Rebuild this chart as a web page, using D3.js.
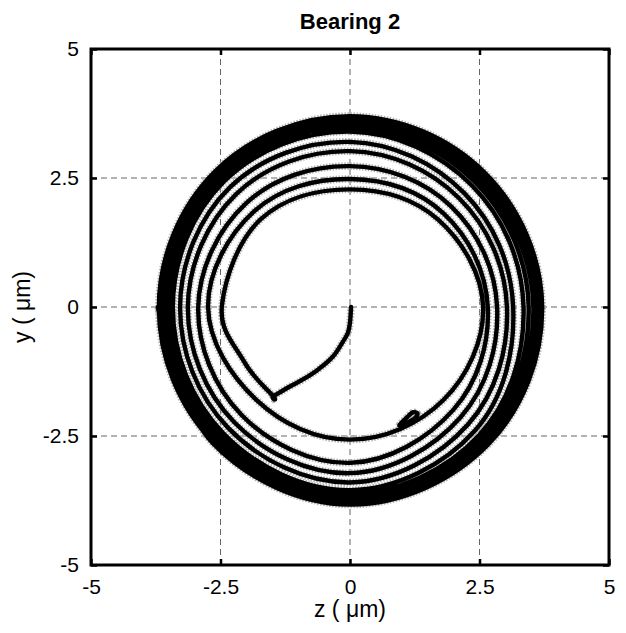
<!DOCTYPE html>
<html>
<head>
<meta charset="utf-8">
<script src="https://cdn.jsdelivr.net/npm/d3@7"></script>
<style>
  body { margin: 0; background: #fff; }
  svg { display: block; }
  text { font-family: "Liberation Sans", Arial, sans-serif; fill: #000; }
</style>
</head>
<body>
<svg width="626" height="633"></svg>
<script>
var tickValues = [-5, -2.5, 0, 2.5, 5],
    tickLabels = ["-5", "-2.5", "0", "2.5", "5"],
    gridValues = [-2.5, 0, 2.5];

// start-up path: from the centre down-left to the corner (held twice), then up the left side
var startZ = [0.02, 0.0, -0.04, -0.13, -0.33, -0.6, -0.9, -1.16, -1.48, -1.48, -2.05, -2.47],
    startY = [0.0, -0.3, -0.5, -0.66, -0.96, -1.2, -1.4, -1.54, -1.73, -1.73, -1.05, 0.05];

// orbit revolutions (clockwise), radius in um at each angle
var loopAngles = [135, 90, 45, 0, -45, -90, -135, -180];
var loopRadii = [
  [2.42, 2.28, 2.40, 2.57, 2.55, 2.57, 2.55, 2.74],
  [2.62, 2.48, 2.56, 2.66, 2.82, 3.02, 2.96, 2.93],
  [2.84, 2.73, 2.76, 2.84, 3.02, 3.22, 3.16, 3.13],
  [3.10, 3.02, 2.98, 3.03, 3.22, 3.40, 3.32, 3.28],
  [3.28, 3.20, 3.12, 3.15, 3.40, 3.55, 3.46, 3.42],
  [3.44, 3.40, 3.33, 3.35, 3.52, 3.62, 3.54, 3.48],
  [3.52, 3.48, 3.42, 3.45, 3.58, 3.68, 3.60, 3.55],
  [3.58, 3.55, 3.50, 3.54, 3.64, 3.73, 3.64, 3.60],
  [3.63, 3.61, 3.58, 3.62, 3.70, 3.78, 3.69, 3.65],
  [3.67, 3.66, 3.64, 3.67, 3.74, 3.81, 3.72, 3.69],
  [3.70, 3.70, 3.68, 3.71, 3.77, 3.83, 3.74, 3.71]
];

// small kink on the first revolution, lower right
var kinkZ = [0.95, 1.1, 1.22, 1.3, 1.27, 1.15, 1.02],
    kinkY = [-2.3, -2.14, -2.04, -2.06, -2.14, -2.22, -2.28];

var svg = d3.select("svg"),
    width = +svg.attr("width"),
    height = +svg.attr("height");

var x = d3.scaleLinear().domain([-5, 5]).range([91, 609]),
    y = d3.scaleLinear().domain([-5, 5]).range([565, 49]);

svg.append("rect").attr("width", width).attr("height", height).attr("fill", "#fff");

// grid
var grid = svg.append("g").attr("stroke", "#666").attr("stroke-width", 1).attr("stroke-dasharray", "6,4");
grid.selectAll(".gx").data(gridValues).enter().append("line")
    .attr("x1", function(d) { return x(d); }).attr("x2", function(d) { return x(d); })
    .attr("y1", y(5)).attr("y2", y(-5));
grid.selectAll(".gy").data(gridValues).enter().append("line")
    .attr("y1", function(d) { return y(d); }).attr("y2", function(d) { return y(d); })
    .attr("x1", x(-5)).attr("x2", x(5));

// orbit points: start-up path followed by the revolutions
var orbitPts = startZ.map(function(z, i) { return [z, startY[i]]; });
loopRadii.forEach(function(radii, i) {
  radii.forEach(function(r, j) {
    var a = (loopAngles[j] - 360 * i) * Math.PI / 180;
    orbitPts.push([r * Math.cos(a), r * Math.sin(a)]);
  });
});
var kinkPts = kinkZ.map(function(z, i) { return [z, kinkY[i]]; });

var line = d3.line().x(function(d) { return x(d[0]); }).y(function(d) { return y(d[1]); }).curve(d3.curveCardinal.tension(-0.1)),
    loop = d3.line().x(function(d) { return x(d[0]); }).y(function(d) { return y(d[1]); }).curve(d3.curveCatmullRomClosed);

var paths = [line(orbitPts), loop(kinkPts)];

// grey scan halo under the black trace
svg.append("g").selectAll("path").data(paths).enter().append("path")
    .attr("d", function(d) { return d; })
    .attr("fill", "none").attr("stroke", "#b3b3b3").attr("stroke-width", 7.5)
    .attr("stroke-dasharray", "1.5,1.5")
    .attr("stroke-linejoin", "round");
svg.append("g").selectAll("path").data(paths).enter().append("path")
    .attr("d", function(d) { return d; })
    .attr("fill", "none").attr("stroke", "#000").attr("stroke-width", 4.4)
    .attr("stroke-linejoin", "round").attr("stroke-linecap", "round");

// axes box with inward ticks
var fmt = function(d) { return tickLabels[tickValues.indexOf(d)]; };
var ax = svg.append("g");
ax.append("g").attr("transform", "translate(0," + y(-5) + ")")
    .call(d3.axisBottom(x).tickValues(tickValues).tickFormat(fmt).tickSize(-6).tickPadding(14));
ax.append("g").attr("transform", "translate(" + x(-5) + ",0)")
    .call(d3.axisLeft(y).tickValues(tickValues).tickFormat(fmt).tickSize(-6).tickPadding(12));
ax.append("g").attr("transform", "translate(0," + y(5) + ")")
    .call(d3.axisTop(x).tickValues(tickValues).tickFormat("").tickSize(-6));
ax.append("g").attr("transform", "translate(" + x(5) + ",0)")
    .call(d3.axisRight(y).tickValues(tickValues).tickFormat("").tickSize(-6));
ax.selectAll(".domain").remove();
ax.selectAll(".tick line").attr("stroke", "#000").attr("stroke-width", 2.5);
ax.selectAll(".tick text").attr("font-size", 21).attr("font-family", "Liberation Sans, Arial, sans-serif").attr("fill", "#000");

svg.append("rect")
    .attr("x", x(-5)).attr("y", y(5))
    .attr("width", x(5) - x(-5)).attr("height", y(-5) - y(5))
    .attr("fill", "none").attr("stroke", "#000").attr("stroke-width", 3);

// labels
svg.append("text").attr("x", x(0)).attr("y", 29).attr("text-anchor", "middle")
    .attr("font-size", 22).attr("font-weight", "bold").text("Bearing 2");
svg.append("text").attr("x", x(0)).attr("y", 617).attr("text-anchor", "middle")
    .attr("font-size", 23).text("z ( μm)");
svg.append("text").attr("transform", "translate(30," + y(0) + ") rotate(-90)").attr("text-anchor", "middle")
    .attr("font-size", 23).text("y ( μm)");
</script>
</body>
</html>
